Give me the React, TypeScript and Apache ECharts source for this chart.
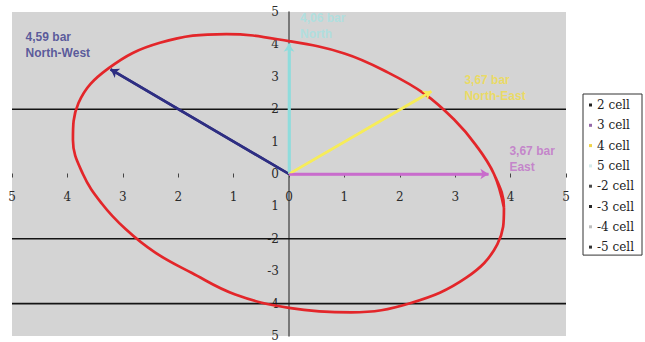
import React, { useEffect, useRef } from "react";
import * as echarts from "echarts";

// ---- data ----
const axisMin = -5;
const axisMax = 5;
const axisStep = 1;
const xTickText = ["5", "4", "3", "2", "1", "0", "1", "2", "3", "4", "5"];
const yTickText = ["5", "-4", "-3", "-2", "1", "0", "1", "2", "3", "4", "5"];

const legendNames = ["2 cell", "3 cell", "4 cell", "5 cell", "-2 cell", "-3 cell", "-4 cell", "-5 cell"];

const levelNames = ["2 cell", "-2 cell", "-4 cell"];
const levelValues = [2, -2, -4];

const arrowNames = ["-3 cell", "5 cell", "4 cell", "3 cell"];
const arrowEnds: number[][] = [
  [-3.22, 3.23],
  [0, 4.02],
  [2.57, 2.55],
  [3.6, 0],
];
const arrowTexts = ["4,59 bar\nNorth-West", "4,06 bar\nNorth", "3,67 bar\nNorth-East", "3,67 bar\nEast"];

const ellipseName = "-5 cell";
const ellipsePoints: number[][] = [
  [3.88, -1.04],
  [3.7, 0],
  [3.37, 0.9],
  [2.98, 1.68],
  [2.46, 2.46],
  [1.79, 3.13],
  [1.0, 3.72],
  [0, 4.1],
  [-1.13, 4.32],
  [-2.33, 4.05],
  [-3.26, 3.26],
  [-3.8, 2.19],
  [-3.9, 1.05],
  [-3.72, 0],
  [-3.38, -0.91],
  [-2.95, -1.7],
  [-2.42, -2.42],
  [-1.76, -3.05],
  [-0.97, -3.72],
  [0, -4.13],
  [1.12, -4.27],
  [2.2, -3.98],
  [3.2, -3.2],
  [3.76, -2.17],
  [3.88, -1.04],
  [3.7, 0],
  [3.37, 0.9],
];

// ---- styles ----
const arrowColors = ["#2e2e82", "#8fdcdc", "#f6ec5a", "#c86ccc"];
const labelColors = ["#3a3a8c", "#a6e2e2", "#f0dc48", "#c070c8"];
const labelOffsets: number[][] = [
  [-85, -40],
  [11, -34],
  [33, -19],
  [21, -31],
];
const legendIconColors = ["#222222", "#9468a8", "#f0d448", "#d4eaea", "#4a4a4a", "#262626", "#bdbdbd", "#333333"];

const GRID_LEFT = 12;
const GRID_RIGHT = 79;
const GRID_TOP = 12;
const GRID_BOTTOM = 5;
const W = 645;
const H = 342;

export default function App() {
  const ref = useRef<HTMLDivElement>(null);

  useEffect(() => {
    if (!ref.current) return;
    const chart = echarts.init(ref.current, undefined, { renderer: "svg" });

    const plotW = W - GRID_LEFT - GRID_RIGHT;
    const plotH = H - GRID_TOP - GRID_BOTTOM;
    const zeroFracX = (0 - axisMin) / (axisMax - axisMin);
    const zeroFracY = (0 - axisMin) / (axisMax - axisMin);

    const series: any[] = [];

    levelValues.forEach((v, i) => {
      series.push({
        name: levelNames[i],
        type: "line",
        data: [
          [axisMin, v],
          [axisMax, v],
        ],
        symbol: "none",
        lineStyle: { color: "#141414", width: 1.6 },
        itemStyle: { color: "#141414" },
        z: 2,
      });
    });

    series.push({
      name: ellipseName,
      type: "line",
      data: ellipsePoints,
      smooth: 0.4,
      symbol: "none",
      lineStyle: { color: "#e3262a", width: 2.7 },
      itemStyle: { color: "#e3262a" },
      z: 4,
    });

    arrowEnds.forEach((p, i) => {
      series.push({
        name: arrowNames[i],
        type: "line",
        data: [[0, 0], p],
        symbol: "none",
        lineStyle: { color: arrowColors[i], width: 2.6 },
        itemStyle: { color: arrowColors[i] },
        z: 3,
        markLine: {
          silent: true,
          symbol: ["none", "arrow"],
          symbolSize: 8,
          label: { show: false },
          lineStyle: { color: arrowColors[i], width: 2.6, type: "solid" },
          data: [[{ coord: [0, 0] }, { coord: p }]],
        },
      });
    });

    series.push({
      name: "labels",
      type: "scatter",
      symbolSize: 1,
      itemStyle: { color: "rgba(0,0,0,0)" },
      z: 6,
      data: arrowEnds.map((p, i) => ({
        value: p,
        label: {
          show: true,
          position: "inside",
          align: "left",
          verticalAlign: "top",
          offset: labelOffsets[i],
          formatter: arrowTexts[i],
          color: labelColors[i],
          fontFamily: "Liberation Sans, Arial, sans-serif",
          fontWeight: "bold",
          fontSize: 12,
          lineHeight: 16,
        },
      })),
    });

    chart.setOption({
      animation: false,
      backgroundColor: "#ffffff",
      grid: {
        left: GRID_LEFT,
        right: GRID_RIGHT,
        top: GRID_TOP,
        bottom: GRID_BOTTOM,
        show: true,
        backgroundColor: "#d4d4d4",
        borderWidth: 0,
        containLabel: false,
      },
      xAxis: {
        type: "value",
        min: axisMin,
        max: axisMax,
        interval: axisStep,
        position: "bottom",
        offset: -plotH * zeroFracY,
        axisLine: { show: true, onZero: false, lineStyle: { color: "rgba(0,0,0,0)" } },
        axisTick: { show: true, length: 4, lineStyle: { color: "#444", width: 1 } },
        splitLine: { show: false },
        axisLabel: {
          margin: 17,
          fontFamily: "DejaVu Serif, serif",
          fontSize: 12,
          color: "#2a2a2a",
          formatter: (v: number) => xTickText[Math.round(v - axisMin)],
        },
      },
      yAxis: {
        type: "value",
        min: axisMin,
        max: axisMax,
        interval: axisStep,
        position: "left",
        offset: -plotW * zeroFracX,
        axisLine: { show: true, onZero: false, lineStyle: { color: "#5a5a5a", width: 1.5 } },
        axisTick: { show: false },
        splitLine: { show: false },
        axisLabel: {
          margin: 10,
          fontFamily: "DejaVu Serif, serif",
          fontSize: 12,
          color: "#2a2a2a",
          formatter: (v: number) => yTickText[Math.round(v - axisMin)],
        },
      },
      legend: {
        show: true,
        orient: "vertical",
        left: 583,
        top: 94,
        padding: [4, 3, 1, 6],
        borderColor: "#333",
        borderWidth: 1,
        backgroundColor: "#ffffff",
        itemWidth: 3,
        itemHeight: 3,
        itemGap: 6.3,
        itemTextGap: 4,
        selectedMode: false,
        icon: "rect",
        textStyle: {
          fontFamily: "DejaVu Serif, serif",
          fontSize: 12,
          lineHeight: 14,
          color: "#222",
          width: 42,
        },
        data: legendNames.map((n, i) => ({
          name: n,
          itemStyle: { color: legendIconColors[i] },
        })),
      },
      series,
    });

    return () => chart.dispose();
  }, []);

  return (
    <div
      ref={ref}
      style={{ position: "absolute", left: 0, top: 0, width: W, height: H, background: "#fff" }}
    />
  );
}
